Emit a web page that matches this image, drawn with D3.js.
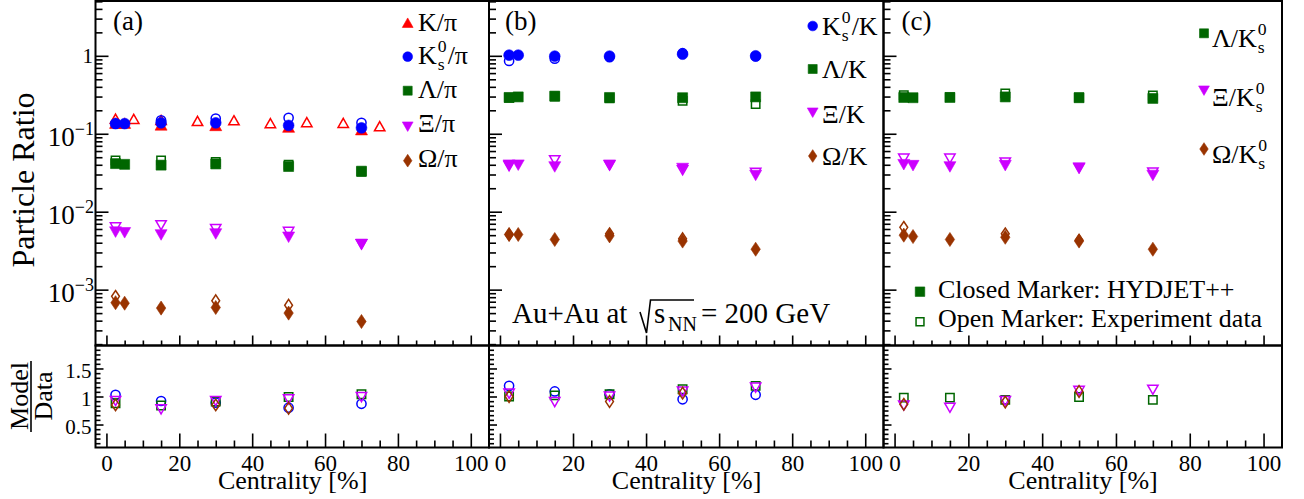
<!DOCTYPE html>
<html>
<head>
<meta charset="utf-8">
<script src="https://cdn.jsdelivr.net/npm/d3@7"></script>
<style>
  body { margin: 0; background: #fff; }
  text { font-family: "Liberation Serif", "Times New Roman", serif; fill: #000; }
</style>
</head>
<body>
<svg id="chart" width="1304" height="499"></svg>
<script>
// centrality bins
var centModel = [2.5, 5, 15, 30, 50, 70];
var centData = [2.5, 15, 30, 50, 70];
var centKpiData = [2.5, 7.5, 15, 25, 35, 45, 55, 65, 75];

// panel (a): ratios to pion
var kpiModel = [0.137, 0.137, 0.130, 0.128, 0.122, 0.113];
var kpiData = [0.156, 0.155, 0.150, 0.146, 0.149, 0.137, 0.141, 0.138, 0.125];
var ks0piModel = [0.135, 0.135, 0.138, 0.138, 0.128, 0.119];
var ks0piData = [0.135, 0.149, 0.157, 0.160, 0.138];
var lampiModel = [0.0414, 0.0405, 0.0396, 0.0410, 0.0380, 0.0331];
var lampiData = [0.0456, 0.0456, 0.0435, 0.0400, 0.0325];
var xipiModel = [0.00547, 0.00536, 0.00503, 0.00518, 0.00470, 0.00381];
var xipiData = [0.0063, 0.0067, 0.0060, 0.0055, 0.0038];
var ompiModel = [0.00068, 0.00067, 0.00058, 0.00059, 0.00050, 0.00039];
var ompiData = [0.00082, null, 0.00072, 0.00063, null];

// panel (b): ratios to kaon
var ks0kModel = [1.02, 1.02, 0.99, 0.99, 1.05, 1.00];
var ks0kData = [0.86, 0.92, 0.96, 1.08, 0.98];
var lamkModel = [0.292, 0.297, 0.304, 0.292, 0.290, 0.297];
var lamkData = [0.290, 0.300, 0.285, 0.264, 0.240];
var xikModel = [0.0395, 0.0395, 0.0375, 0.0395, 0.0358, 0.0292];
var xikData = [0.0385, 0.0457, 0.0392, 0.0340, 0.0315];
var omkModel = [0.0051, 0.0051, 0.0044, 0.0049, 0.0042, 0.0033];
var omkData = [0.0051, null, 0.0052, 0.0045, null];

// panel (c): ratios to K0s
var lamks0Model = [0.292, 0.290, 0.292, 0.297, 0.290, 0.284];
var lamks0Data = [0.313, 0.295, 0.330, 0.292, 0.310];
var xiks0Model = [0.0401, 0.0390, 0.0375, 0.0390, 0.0358, 0.0292];
var xiks0Data = [0.0480, 0.0480, 0.0427, 0.0365, 0.0318];
var omks0Model = [0.0050, 0.0048, 0.0044, 0.0047, 0.0042, 0.0033];
var omks0Data = [0.0063, null, 0.0052, 0.0043, null];

// Model/Data
var rKs0Pi = [1.03, 0.92, 0.89, 0.80, 0.87];
var rLamPi = [0.88, 0.84, 0.91, 0.99, 1.04];
var rXiPi = [0.92, 0.77, 0.92, 0.95, 0.99];
var rOmPi = [0.85, null, 0.85, 0.79, null];
var rKs0K = [1.19, 1.09, 1.04, 0.95, 1.03];
var rLamK = [1.00, 1.02, 1.04, 1.13, 1.19];
var rXiK = [1.05, 0.90, 1.00, 1.09, 1.16];
var rOmK = [1.00, null, 0.91, 1.06, null];
var rLamKs0 = [0.98, 0.98, 0.94, 0.99, 0.94];
var rXiKs0 = [0.84, 0.80, 0.92, 1.10, 1.12];
var rOmKs0 = [0.86, null, 0.90, 1.09, null];

// axis ticks
var xMajor = [0, 20, 40, 60, 80, 100];
var yMajor = [1, 0.1, 0.01, 0.001];
var rMajor = [0.5, 1, 1.5];

var red = "#ff0000", blue = "#0000ff", green = "#006600", violet = "#cc00ff", brown = "#993300";
var ks = {sup: "0", sub: "s"};

var svg = d3.select("#chart");

var yTopPx = 1, yMidPx = 345.5, yBotPx = 447.5;
var yTop = d3.scaleLog().domain([1.92e-4, 5.05]).range([yMidPx, yTopPx]);
var yRat = d3.scaleLinear().domain([0.09, 1.91]).range([yBotPx, yMidPx]);

// marker shapes, size = half width
var shapes = {
    circle: {draw: function (c, r) { c.moveTo(r, 0); c.arc(0, 0, r, 0, 2 * Math.PI); }},
    square: {draw: function (c, r) { c.rect(-r, -r, 2 * r, 2 * r); }},
    triUp: {draw: function (c, r) { var h = r * 0.88; c.moveTo(0, -h); c.lineTo(r, h); c.lineTo(-r, h); c.closePath(); }},
    triDown: {draw: function (c, r) { var h = r * 0.88; c.moveTo(0, h); c.lineTo(r, -h); c.lineTo(-r, -h); c.closePath(); }},
    diamond: {draw: function (c, r) { var h = r * 1.5; c.moveTo(0, -h); c.lineTo(r, 0); c.lineTo(0, h); c.lineTo(-r, 0); c.closePath(); }}
};
var shapeSize = {circle: 5.4, square: 5, triUp: 6, triDown: 6, diamond: 4.7};

function marker(g, shape, x, y, color, open, scale) {
    var s = shapeSize[shape] * (scale || 1);
    var p = d3.symbol().type(shapes[shape]).size(open ? s - 0.8 : s);
    g.append("path")
        .attr("d", p())
        .attr("transform", "translate(" + x + "," + y + ")")
        .attr("fill", open ? "none" : color)
        .attr("stroke", color)
        .attr("stroke-width", open ? 1.5 : 0.6);
}

// text with sub/superscripts
function richText(g, x, y, parts, fs) {
    var t = g.append("text").style("font-size", fs + "px");
    var cx = x;
    parts.forEach(function (p) {
        if (typeof p === "string") {
            var s = t.append("tspan").attr("x", cx).attr("y", y).text(p);
            cx += s.node().getComputedTextLength();
        } else {
            var a = t.append("tspan").attr("x", cx + 1).attr("y", y - 12).style("font-size", (fs * 0.68) + "px").text(p.sup);
            var b = t.append("tspan").attr("x", cx + 1).attr("y", y + 6).style("font-size", (fs * 0.68) + "px").text(p.sub);
            cx += 2 + Math.max(a.node().getComputedTextLength(), b.node().getComputedTextLength());
        }
    });
    return t;
}

var panels = [
    {
        x0: 95.5, x1: 489, tag: "(a)", tagX: 113,
        series: [
            {model: kpiModel, data: kpiData, xd: centKpiData, color: red, shape: "triUp"},
            {model: ks0piModel, data: ks0piData, xd: centData, color: blue, shape: "circle", ratio: rKs0Pi},
            {model: lampiModel, data: lampiData, xd: centData, color: green, shape: "square", ratio: rLamPi},
            {model: xipiModel, data: xipiData, xd: centData, color: violet, shape: "triDown", ratio: rXiPi},
            {model: ompiModel, data: ompiData, xd: centData, color: brown, shape: "diamond", ratio: rOmPi}
        ],
        legend: {mx: 407.7, tx: 418, rows: [
            {shape: "triUp", color: red, my: 22.7, ty: 30.5, label: ["K/π"]},
            {shape: "circle", color: blue, my: 56.7, ty: 64, label: ["K", ks, "/π"]},
            {shape: "square", color: green, my: 90.7, ty: 98, label: ["Λ/π"]},
            {shape: "triDown", color: violet, my: 126.7, ty: 132, label: ["Ξ/π"]},
            {shape: "diamond", color: brown, my: 160.7, ty: 167, label: ["Ω/π"]}
        ]}
    },
    {
        x0: 489, x1: 883.5, tag: "(b)", tagX: 505,
        series: [
            {model: ks0kModel, data: ks0kData, xd: centData, color: blue, shape: "circle", ratio: rKs0K},
            {model: lamkModel, data: lamkData, xd: centData, color: green, shape: "square", ratio: rLamK},
            {model: xikModel, data: xikData, xd: centData, color: violet, shape: "triDown", ratio: rXiK},
            {model: omkModel, data: omkData, xd: centData, color: brown, shape: "diamond", ratio: rOmK}
        ],
        legend: {mx: 812.7, tx: 822, rows: [
            {shape: "circle", color: blue, my: 26, ty: 35, label: ["K", ks, "/K"]},
            {shape: "square", color: green, my: 69, ty: 78.3, label: ["Λ/K"]},
            {shape: "triDown", color: violet, my: 112.7, ty: 122.7, label: ["Ξ/K"]},
            {shape: "diamond", color: brown, my: 156, ty: 165, label: ["Ω/K"]}
        ]}
    },
    {
        x0: 883.5, x1: 1282, tag: "(c)", tagX: 901.5,
        series: [
            {model: lamks0Model, data: lamks0Data, xd: centData, color: green, shape: "square", ratio: rLamKs0},
            {model: xiks0Model, data: xiks0Data, xd: centData, color: violet, shape: "triDown", ratio: rXiKs0},
            {model: omks0Model, data: omks0Data, xd: centData, color: brown, shape: "diamond", ratio: rOmKs0}
        ],
        legend: {mx: 1204, tx: 1212, rows: [
            {shape: "square", color: green, my: 33.3, ty: 46.7, label: ["Λ/K", ks]},
            {shape: "triDown", color: violet, my: 90.7, ty: 106, label: ["Ξ/K", ks]},
            {shape: "diamond", color: brown, my: 149, ty: 163.3, label: ["Ω/K", ks]}
        ]}
    }
];

var logMinor = yTop.ticks().filter(function (v) {
    return Math.abs(Math.log10(v) - Math.round(Math.log10(v))) > 1e-6;
});
var xMinor = d3.range(5, 100, 5).filter(function (v) { return v % 20 !== 0; });
var rMinor = d3.range(2, 23).filter(function (k) { return k % 6 !== 0; }).map(function (k) { return k / 12; });

function tidy(g) {
    g.select(".domain").remove();
    g.selectAll(".tick line").attr("stroke-width", 1.6);
}

panels.forEach(function (p, pi) {
    var x = d3.scaleLinear().domain([-3, 105]).range([p.x0, p.x1]);

    // points, top pad
    var gp = svg.append("g");
    p.series.forEach(function (s) {
        s.model.forEach(function (v, i) {
            marker(gp, s.shape, x(centModel[i]), yTop(v), s.color, false);
        });
        s.data.forEach(function (v, i) {
            if (v !== null) marker(gp, s.shape, x(s.xd[i]), yTop(v), s.color, true);
        });
    });

    // points, ratio pad
    var gr = svg.append("g");
    p.series.forEach(function (s) {
        if (!s.ratio) return;
        s.ratio.forEach(function (v, i) {
            if (v !== null) marker(gr, s.shape, x(centData[i]), yRat(v), s.color, true);
        });
    });

    // axes, ticks inward
    var gl = svg.append("g").attr("transform", "translate(" + p.x0 + ",0)")
        .call(d3.axisLeft(yTop).tickValues(yMajor).tickSize(-13).tickFormat(""));
    tidy(gl);
    var gl2 = svg.append("g").attr("transform", "translate(" + p.x0 + ",0)")
        .call(d3.axisLeft(yTop).tickValues(logMinor).tickSize(-7).tickFormat(""));
    tidy(gl2);

    var gb = svg.append("g").attr("transform", "translate(0," + yMidPx + ")")
        .call(d3.axisBottom(x).tickValues(xMajor).tickSize(-10).tickFormat(""));
    tidy(gb);
    var gb2 = svg.append("g").attr("transform", "translate(0," + yMidPx + ")")
        .call(d3.axisBottom(x).tickValues(xMinor).tickSize(-5).tickFormat(""));
    tidy(gb2);

    var rb = svg.append("g").attr("transform", "translate(0," + yBotPx + ")")
        .call(d3.axisBottom(x).tickValues(xMajor).tickSize(-14).tickPadding(7).tickFormat(String));
    tidy(rb);
    rb.attr("font-size", 23).attr("font-family", null);
    var rb2 = svg.append("g").attr("transform", "translate(0," + yBotPx + ")")
        .call(d3.axisBottom(x).tickValues(xMinor).tickSize(-7).tickFormat(""));
    tidy(rb2);

    var rl = svg.append("g").attr("transform", "translate(" + p.x0 + ",0)")
        .call(d3.axisLeft(yRat).tickValues(rMajor).tickSize(-8).tickPadding(4)
            .tickFormat(pi === 0 ? String : function () { return ""; }));
    tidy(rl);
    rl.attr("font-size", 21).attr("font-family", null);
    rl.selectAll(".tick text").attr("dy", "0.45em");
    var rl2 = svg.append("g").attr("transform", "translate(" + p.x0 + ",0)")
        .call(d3.axisLeft(yRat).tickValues(rMinor).tickSize(-5).tickFormat(""));
    tidy(rl2);

    // frames
    svg.append("rect").attr("x", p.x0).attr("y", yTopPx).attr("width", p.x1 - p.x0).attr("height", yMidPx - yTopPx)
        .attr("fill", "none").attr("stroke", "#000").attr("stroke-width", 2);
    svg.append("rect").attr("x", p.x0).attr("y", yMidPx).attr("width", p.x1 - p.x0).attr("height", yBotPx - yMidPx)
        .attr("fill", "none").attr("stroke", "#000").attr("stroke-width", 2);

    // x title
    svg.append("text").attr("x", x(50) + 4).attr("y", 488.5).attr("text-anchor", "middle")
        .style("font-size", "26px").text("Centrality [%]");

    // panel tag
    svg.append("text").attr("x", p.tagX).attr("y", 30).style("font-size", "27px").text(p.tag);

    // legend
    var lg = svg.append("g");
    p.legend.rows.forEach(function (r) {
        marker(lg, r.shape, p.legend.mx, r.my, r.color, false, 0.9);
        richText(lg, p.legend.tx, r.ty, r.label, 26);
    });
});

// log axis labels on panel (a)
yMajor.forEach(function (v) {
    var y = yTop(v);
    if (v === 1) {
        svg.append("text").attr("x", 93).attr("y", y + 7.5).attr("text-anchor", "end")
            .style("font-size", "21px").text("1");
    } else {
        var t = svg.append("text").attr("x", 94).attr("y", y + 12).attr("text-anchor", "end").style("font-size", "27px");
        t.append("tspan").text("10");
        t.append("tspan").attr("dy", -11).style("font-size", "18px").text("−" + Math.round(-Math.log10(v)));
    }
});

// axis titles
svg.append("text").attr("transform", "translate(34,180) rotate(-90)").attr("text-anchor", "middle")
    .style("font-size", "32px").text("Particle Ratio");
svg.append("text").attr("transform", "translate(28,396) rotate(-90)").attr("text-anchor", "middle")
    .style("font-size", "26px").text("Model");
svg.append("line").attr("x1", 31).attr("x2", 31).attr("y1", 361).attr("y2", 432)
    .attr("stroke", "#000").attr("stroke-width", 1.6);
svg.append("text").attr("transform", "translate(52,396) rotate(-90)").attr("text-anchor", "middle")
    .style("font-size", "26px").text("Data");

// collision label
svg.append("text").attr("x", 512).attr("y", 323).style("font-size", "29px").text("Au+Au at");
svg.append("path").attr("d", "M640,312L646.5,333L650.5,300L694,300")
    .attr("fill", "none").attr("stroke", "#000").attr("stroke-width", 1.6);
svg.append("text").attr("x", 654).attr("y", 323).style("font-size", "29px").text("s");
svg.append("text").attr("x", 668).attr("y", 331).style("font-size", "20px").text("NN");
svg.append("text").attr("x", 701).attr("y", 323).style("font-size", "29px").text("= 200 GeV");

// closed / open legend
var ml = svg.append("g");
marker(ml, "square", 920, 291.7, green, false, 0.95);
marker(ml, "square", 920, 321.7, green, true, 0.95);
svg.append("text").attr("x", 938).attr("y", 298.3).style("font-size", "26px").text("Closed Marker: HYDJET++");
svg.append("text").attr("x", 938).attr("y", 326.7).style("font-size", "26px").text("Open Marker: Experiment data");
</script>
</body>
</html>
